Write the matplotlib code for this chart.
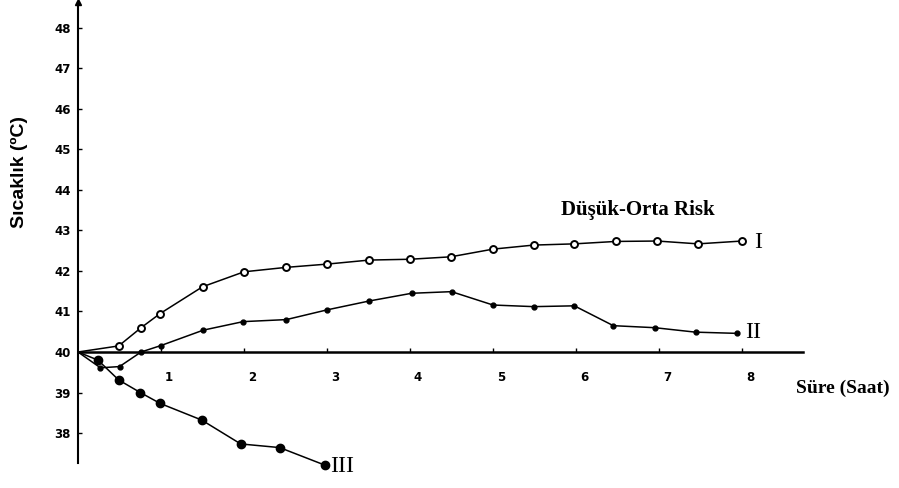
import matplotlib
matplotlib.use('Agg')
import matplotlib.pyplot as plt
from matplotlib.transforms import ScaledTranslation

# hours / temperature (deg C)
t_I = [0, 0.49, 0.76, 0.99, 1.50, 2.0, 2.51, 3.0, 3.51, 4.0, 4.49, 5.0, 5.49, 5.98, 6.48, 6.98, 7.47, 8.0]
temp_I = [40.0, 40.15, 40.6, 40.95, 41.61, 41.98, 42.09, 42.17, 42.27, 42.29, 42.35, 42.54, 42.64, 42.67, 42.73, 42.74, 42.67, 42.74]

t_II = [0, 0.27, 0.5, 0.76, 1.0, 1.51, 1.99, 2.51, 3.0, 3.51, 4.02, 4.5, 5.0, 5.49, 5.98, 6.45, 6.95, 7.44, 7.94]
temp_II = [40.0, 39.61, 39.64, 40.0, 40.16, 40.54, 40.75, 40.8, 41.04, 41.26, 41.45, 41.49, 41.16, 41.12, 41.14, 40.65, 40.6, 40.49, 40.46]

t_III = [0, 0.24, 0.49, 0.75, 0.99, 1.49, 1.96, 2.43, 2.97]
temp_III = [40.0, 39.8, 39.31, 39.0, 38.73, 38.32, 37.73, 37.64, 37.21]

x_ticks = [1, 2, 3, 4, 5, 6, 7, 8]
y_ticks = [38, 39, 40, 41, 42, 43, 44, 45, 46, 47, 48]

fig = plt.figure(figsize=(8.99, 4.88), dpi=100)
ax = fig.add_axes([0, 0, 1, 1])
ax.set_xlim(-78 / 83, (899 - 78) / 83)
ax.set_ylim(40 - (488 - 352) / 40.5, 40 + 352 / 40.5)

for s in ['top', 'right']:
    ax.spines[s].set_visible(False)
ax.spines['left'].set_position(('data', 0))
ax.spines['left'].set_bounds(37.26, 48.6)
ax.spines['left'].set_linewidth(1.5)
ax.spines['bottom'].set_position(('data', 40))
ax.spines['bottom'].set_bounds(0, 8.73)
ax.spines['bottom'].set_linewidth(1.8)
ax.plot(0, 48.65, marker='^', ms=5, color='k', clip_on=False)

ax.set_yticks(y_ticks)
ax.set_yticklabels([str(v) for v in y_ticks], fontweight='bold')
ax.tick_params(axis='y', direction='in', length=3, width=1, pad=5, labelsize=8.5)
ax.set_xticks(x_ticks)
ax.set_xticklabels([str(v) for v in x_ticks], fontweight='bold')
ax.tick_params(axis='x', direction='in', length=3, width=1, pad=14, labelsize=8.5)
for lbl in ax.get_xticklabels():
    lbl.set_transform(lbl.get_transform() + ScaledTranslation(0.08, 0, fig.dpi_scale_trans))

ax.plot(t_I, temp_I, color='k', lw=1.1, marker='o', ms=5, mfc='white', mec='k', mew=1.4,
        markevery=list(range(1, len(t_I))), clip_on=False)
ax.plot(t_II, temp_II, color='k', lw=1.1, marker='o', ms=3.5, mfc='k', mec='k',
        markevery=list(range(1, len(t_II))), clip_on=False)
ax.plot(t_III, temp_III, color='k', lw=1.1, marker='o', ms=6, mfc='k', mec='k',
        markevery=list(range(1, len(t_III))), clip_on=False)

ax.text(-0.71, 44.44, 'Sıcaklık (ºC)', rotation=90, ha='center', va='center', fontsize=14,
        fontweight='bold', family=['Liberation Sans Narrow', 'Liberation Sans'])
ax.text(6.74, 43.5, 'Düşük-Orta Risk', ha='center', va='center', fontsize=15,
        fontweight='bold', family='Liberation Serif')
ax.text(9.22, 39.1, 'Süre (Saat)', ha='center', va='center', fontsize=14,
        fontweight='bold', family='Liberation Serif')
ax.text(8.19, 42.7, 'I', ha='center', va='center', fontsize=17, family='Liberation Serif')
ax.text(8.13, 40.48, 'II', ha='center', va='center', fontsize=17, family='Liberation Serif')
ax.text(3.18, 37.18, 'III', ha='center', va='center', fontsize=17, family='Liberation Serif')

fig.savefig('out.png', dpi=100)
